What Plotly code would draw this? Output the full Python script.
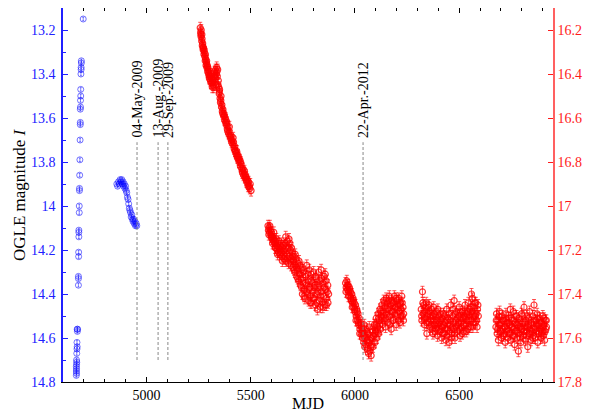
import plotly.graph_objects as go

# OGLE I-band (left axis), MJD - 50000
ogle_mjd = [4697, 4688, 4688, 4687, 4687, 4686, 4685, 4685, 4684, 4684, 4683, 4683, 4683,
            4682, 4681, 4680, 4679, 4679, 4678, 4678, 4676, 4676, 4676, 4675, 4675, 4674,
            4674, 4674, 4668, 4670, 4669, 4667, 4668, 4667, 4666, 4665, 4666, 4665, 4664,
            4665, 4664, 4665, 4664,
            4858, 4862, 4866, 4870, 4874, 4878, 4882, 4885, 4888, 4891, 4894, 4897, 4900,
            4903, 4906, 4909, 4912, 4915, 4918, 4921, 4924, 4927, 4930, 4933, 4936, 4939,
            4942, 4945, 4948, 4951, 4954]
ogle_mag = [13.15, 13.34, 13.35, 13.37, 13.38, 13.40, 13.47, 13.50, 13.52, 13.55, 13.56, 13.62, 13.63,
            13.70, 13.79, 13.86, 13.92, 13.93, 14.00, 14.03, 14.11, 14.12, 14.14, 14.21, 14.23, 14.32,
            14.33, 14.36, 14.56, 14.56, 14.57, 14.62, 14.64, 14.65, 14.67, 14.70, 14.71, 14.72, 14.73,
            14.74, 14.75, 14.76, 14.77,
            13.90, 13.91, 13.89, 13.90, 13.88, 13.89, 13.88, 13.90, 13.89, 13.91, 13.90, 13.92, 13.91,
            13.93, 13.94, 13.96, 13.97, 13.99, 14.01, 14.02, 14.03, 14.05, 14.04, 14.06, 14.07, 14.06,
            14.08, 14.07, 14.09, 14.08, 14.09]

# second light curve (right axis), five observing seasons
s1_mjd = [5258, 5260, 5262, 5263, 5265, 5267, 5268, 5270, 5272, 5274, 5276, 5278, 5280, 5282,
          5284, 5286, 5288, 5290, 5292, 5294, 5296, 5298, 5300, 5302, 5305, 5307, 5310, 5312,
          5315, 5318, 5320, 5322, 5325, 5327, 5330, 5332, 5335, 5337, 5340, 5342, 5345, 5347,
          5349, 5351, 5353, 5355, 5357, 5360, 5362, 5364, 5367, 5370, 5372, 5375, 5378, 5380,
          5383, 5386, 5388, 5391, 5394, 5397, 5400, 5403, 5406, 5409, 5412, 5415, 5418, 5421,
          5424, 5427, 5430, 5433, 5436, 5439, 5442, 5445, 5448, 5451, 5454, 5457, 5460, 5463,
          5466, 5469, 5472, 5475, 5478, 5481, 5484, 5487, 5490, 5494, 5498, 5502,
          5261, 5266, 5271, 5277, 5283, 5289, 5295, 5301, 5308, 5316, 5323, 5328, 5333, 5338,
          5343, 5350, 5358, 5366, 5374, 5382, 5390, 5398, 5407, 5416, 5425, 5434, 5443, 5452,
          5461, 5470, 5479, 5488, 5496]
s1_mag = [16.19, 16.21, 16.23, 16.20, 16.25, 16.24, 16.27, 16.26, 16.29, 16.28, 16.31, 16.30, 16.32, 16.34,
          16.33, 16.36, 16.35, 16.37, 16.36, 16.39, 16.38, 16.40, 16.39, 16.42, 16.41, 16.43, 16.44, 16.42,
          16.44, 16.43, 16.45, 16.41, 16.44, 16.39, 16.42, 16.38, 16.40, 16.37, 16.41, 16.38, 16.43, 16.46,
          16.49, 16.47, 16.51, 16.53, 16.52, 16.55, 16.54, 16.57, 16.56, 16.59, 16.58, 16.61, 16.60, 16.62,
          16.63, 16.62, 16.65, 16.64, 16.67, 16.66, 16.68, 16.69, 16.68, 16.71, 16.70, 16.72, 16.71, 16.74,
          16.73, 16.75, 16.76, 16.75, 16.78, 16.77, 16.79, 16.80, 16.79, 16.82, 16.81, 16.83, 16.84, 16.83,
          16.86, 16.85, 16.87, 16.86, 16.88, 16.89, 16.88, 16.90, 16.89, 16.91, 16.90, 16.93,
          16.22, 16.22, 16.28, 16.29, 16.31, 16.34, 16.37, 16.41, 16.40, 16.46, 16.46, 16.41, 16.45, 16.39,
          16.45, 16.48, 16.50, 16.58, 16.59, 16.61, 16.66, 16.64, 16.70, 16.69, 16.75, 16.77, 16.78, 16.80,
          16.85, 16.84, 16.87, 16.91, 16.92]

s2_mjd = [5583, 5585, 5588, 5590, 5594, 5597, 5600, 5603, 5606, 5609, 5612, 5615, 5618, 5621,
          5624, 5627, 5630, 5633, 5636, 5640, 5643, 5646, 5650, 5653, 5656, 5660, 5663, 5666,
          5670, 5673, 5676, 5679, 5682, 5685, 5688, 5691, 5694, 5697, 5700, 5703, 5706, 5709,
          5712, 5715, 5718, 5721, 5724, 5727, 5730, 5733, 5736, 5739, 5742, 5745, 5748, 5751,
          5754, 5757, 5760, 5763, 5766, 5769, 5772, 5775, 5778, 5781, 5784, 5787, 5790, 5793,
          5796, 5799, 5802, 5805, 5808, 5811, 5814, 5817, 5820, 5823, 5826, 5829, 5832, 5835,
          5838, 5841, 5844, 5847, 5850, 5853, 5856, 5859, 5862, 5865, 5868, 5871, 5874,
          5587, 5592, 5599, 5605, 5611, 5617, 5623, 5629, 5635, 5641, 5647, 5652, 5658, 5664,
          5668, 5672, 5678, 5684, 5690, 5696, 5702, 5708, 5714, 5720, 5726, 5732, 5738, 5744,
          5750, 5756, 5762, 5768, 5774, 5780, 5786, 5792, 5798, 5804, 5810, 5816, 5822, 5828,
          5834, 5840, 5846, 5852, 5858, 5864, 5870]
s2_mag = [17.09, 17.11, 17.10, 17.12, 17.11, 17.13, 17.12, 17.15, 17.14, 17.16, 17.15, 17.17, 17.16, 17.19,
          17.18, 17.20, 17.17, 17.21, 17.19, 17.22, 17.18, 17.21, 17.23, 17.19, 17.22, 17.24, 17.20, 17.17,
          17.25, 17.22, 17.16, 17.19, 17.26, 17.23, 17.17, 17.20, 17.27, 17.24, 17.21, 17.28, 17.25, 17.23,
          17.30, 17.27, 17.24, 17.32, 17.29, 17.26, 17.34, 17.31, 17.27, 17.36, 17.33, 17.29, 17.40, 17.35,
          17.30, 17.38, 17.42, 17.32, 17.36, 17.27, 17.40, 17.34, 17.43, 17.29, 17.37, 17.41, 17.31, 17.44,
          17.35, 17.39, 17.30, 17.42, 17.36, 17.45, 17.33, 17.40, 17.47, 17.37, 17.30, 17.43, 17.34, 17.46,
          17.29, 17.39, 17.44, 17.35, 17.41, 17.32, 17.45, 17.38, 17.34, 17.42, 17.39, 17.44, 17.40,
          17.13, 17.09, 17.14, 17.17, 17.12, 17.19, 17.15, 17.22, 17.16, 17.20, 17.17, 17.25, 17.18, 17.23,
          17.14, 17.19, 17.24, 17.15, 17.25, 17.19, 17.23, 17.29, 17.22, 17.28, 17.33, 17.25, 17.31, 17.37,
          17.28, 17.41, 17.35, 17.39, 17.31, 17.38, 17.44, 17.34, 17.42, 17.37, 17.32, 17.44, 17.39, 17.36,
          17.41, 17.33, 17.46, 17.37, 17.31, 17.45, 17.36]

s3_mjd = [5955, 5958, 5961, 5964, 5967, 5970, 5973, 5976, 5979, 5982, 5985, 5988, 5991, 5994,
          5997, 6000, 6003, 6006, 6009, 6012, 6015, 6018, 6021, 6024, 6027, 6030, 6033, 6036,
          6039, 6042, 6045, 6048, 6051, 6054, 6057, 6060, 6063, 6066, 6069, 6072, 6075, 6078,
          6081, 6084, 6087, 6090, 6093, 6096, 6099, 6102, 6105, 6108, 6111, 6114, 6117, 6120,
          6123, 6126, 6129, 6132, 6135, 6138, 6141, 6144, 6147, 6150, 6153, 6156, 6159, 6162,
          6165, 6168, 6171, 6174, 6177, 6180, 6183, 6186, 6189, 6192, 6195, 6198, 6201, 6204,
          6207, 6210, 6213, 6216, 6219, 6222, 6225, 6228, 6231, 6234,
          5957, 5963, 5969, 5975, 5981, 5987, 5993, 5999, 6005, 6011, 6017, 6023, 6029, 6035,
          6041, 6047, 6053, 6059, 6065, 6071, 6077, 6083, 6089, 6095, 6101, 6107, 6113, 6119,
          6125, 6131, 6137, 6143, 6149, 6155, 6161, 6167, 6173, 6179, 6185, 6191, 6197, 6203,
          6209, 6215, 6221, 6227, 6233]
s3_mag = [17.35, 17.37, 17.34, 17.38, 17.36, 17.39, 17.37, 17.41, 17.39, 17.43, 17.40, 17.44, 17.42, 17.46,
          17.44, 17.48, 17.45, 17.50, 17.47, 17.52, 17.49, 17.54, 17.51, 17.56, 17.53, 17.58, 17.55, 17.60,
          17.57, 17.62, 17.54, 17.59, 17.63, 17.56, 17.61, 17.65, 17.58, 17.62, 17.55, 17.66, 17.60, 17.68,
          17.63, 17.57, 17.64, 17.59, 17.54, 17.62, 17.57, 17.51, 17.60, 17.55, 17.49, 17.58, 17.52, 17.47,
          17.56, 17.50, 17.45, 17.54, 17.48, 17.43, 17.52, 17.46, 17.55, 17.42, 17.49, 17.44, 17.53, 17.47,
          17.41, 17.50, 17.45, 17.56, 17.43, 17.48, 17.52, 17.44, 17.41, 17.49, 17.46, 17.54, 17.43, 17.50,
          17.45, 17.42, 17.48, 17.53, 17.44, 17.47, 17.41, 17.50, 17.46, 17.49,
          17.39, 17.36, 17.41, 17.38, 17.42, 17.46, 17.43, 17.47, 17.52, 17.48, 17.53, 17.58, 17.54, 17.57,
          17.59, 17.64, 17.60, 17.57, 17.67, 17.61, 17.64, 17.60, 17.55, 17.58, 17.54, 17.57, 17.51, 17.54,
          17.48, 17.51, 17.50, 17.44, 17.51, 17.47, 17.43, 17.54, 17.48, 17.44, 17.51, 17.46, 17.42, 17.47,
          17.52, 17.45, 17.50, 17.44, 17.52]

s4_mjd = [6318, 6321, 6324, 6327, 6330, 6333, 6336, 6339, 6342, 6345, 6348, 6351, 6354, 6357,
          6360, 6364, 6368, 6372, 6376, 6380, 6384, 6388, 6392, 6396, 6400, 6404, 6408, 6412,
          6416, 6420, 6424, 6428, 6432, 6436, 6440, 6444, 6448, 6452, 6456, 6460, 6464, 6468,
          6472, 6476, 6480, 6484, 6488, 6492, 6496, 6500, 6504, 6508, 6512, 6516, 6520, 6524,
          6528, 6532, 6536, 6540, 6544, 6548, 6552, 6556, 6559, 6560, 6564, 6568, 6572, 6576,
          6580, 6584, 6588, 6592,
          6320, 6326, 6332, 6338, 6344, 6350, 6356, 6362, 6366, 6370, 6374, 6378, 6382, 6386,
          6390, 6394, 6398, 6402, 6406, 6410, 6414, 6418, 6422, 6426, 6430, 6434, 6438, 6442,
          6446, 6450, 6454, 6458, 6462, 6466, 6470, 6474, 6478, 6482, 6486, 6490, 6494, 6498,
          6502, 6506, 6510, 6514, 6518, 6522, 6526, 6530, 6534, 6538, 6542, 6546, 6550, 6554,
          6558, 6562, 6566, 6570, 6574, 6578, 6582, 6586, 6590]
s4_mag = [17.47, 17.52, 17.39, 17.49, 17.45, 17.54, 17.48, 17.51, 17.44, 17.58, 17.50, 17.46, 17.53, 17.48,
          17.55, 17.50, 17.47, 17.56, 17.52, 17.49, 17.57, 17.53, 17.48, 17.59, 17.54, 17.50, 17.57, 17.52,
          17.60, 17.55, 17.49, 17.58, 17.53, 17.61, 17.47, 17.56, 17.51, 17.62, 17.54, 17.45, 17.58, 17.50,
          17.56, 17.43, 17.60, 17.52, 17.48, 17.57, 17.53, 17.46, 17.59, 17.51, 17.55, 17.48, 17.57, 17.50,
          17.45, 17.54, 17.49, 17.56, 17.44, 17.52, 17.47, 17.55, 17.40, 17.49, 17.42, 17.53, 17.46, 17.50,
          17.44, 17.52, 17.47, 17.50,
          17.50, 17.44, 17.51, 17.46, 17.53, 17.49, 17.45, 17.52, 17.54, 17.50, 17.58, 17.46, 17.54, 17.50,
          17.56, 17.52, 17.47, 17.56, 17.53, 17.49, 17.55, 17.51, 17.58, 17.54, 17.50, 17.56, 17.52, 17.59,
          17.54, 17.49, 17.57, 17.52, 17.60, 17.55, 17.47, 17.53, 17.58, 17.49, 17.55, 17.51, 17.54, 17.50,
          17.56, 17.48, 17.53, 17.58, 17.51, 17.54, 17.48, 17.51, 17.57, 17.52, 17.48, 17.55, 17.50, 17.46,
          17.52, 17.48, 17.55, 17.50, 17.44, 17.53, 17.49, 17.55, 17.45]

s5_mjd = [6676, 6679, 6682, 6685, 6688, 6691, 6694, 6697, 6700, 6703, 6706, 6709, 6712, 6715,
          6718, 6721, 6724, 6727, 6730, 6733, 6736, 6739, 6742, 6745, 6748, 6751, 6754, 6757,
          6760, 6763, 6766, 6769, 6772, 6775, 6778, 6781, 6784, 6787, 6790, 6793, 6796, 6799,
          6802, 6805, 6808, 6811, 6814, 6817, 6820, 6823, 6826, 6829, 6832, 6835, 6838, 6841,
          6844, 6847, 6850, 6853, 6856, 6859, 6862, 6865, 6868, 6871, 6874, 6877, 6880, 6883,
          6886, 6889, 6892, 6895, 6898, 6901, 6904, 6907, 6910, 6913, 6916, 6919,
          6678, 6684, 6690, 6696, 6702, 6708, 6714, 6720, 6726, 6732, 6738, 6744, 6750, 6756,
          6762, 6768, 6774, 6780, 6786, 6792, 6798, 6804, 6810, 6816, 6822, 6828, 6834, 6840,
          6846, 6852, 6858, 6864, 6870, 6876, 6882, 6888, 6894, 6900, 6906, 6912, 6918]
s5_mag = [17.55, 17.49, 17.58, 17.52, 17.61, 17.54, 17.48, 17.57, 17.53, 17.60, 17.50, 17.56, 17.59, 17.52,
          17.55, 17.62, 17.49, 17.57, 17.53, 17.60, 17.51, 17.58, 17.54, 17.47, 17.61, 17.55, 17.52, 17.59,
          17.48, 17.56, 17.63, 17.53, 17.57, 17.50, 17.60, 17.54, 17.66, 17.51, 17.58, 17.55, 17.62, 17.49,
          17.56, 17.53, 17.59, 17.46, 17.55, 17.61, 17.52, 17.57, 17.50, 17.64, 17.54, 17.58, 17.48, 17.56,
          17.61, 17.53, 17.57, 17.50, 17.59, 17.45, 17.55, 17.60, 17.52, 17.57, 17.49, 17.62, 17.54, 17.58,
          17.51, 17.56, 17.60, 17.53, 17.57, 17.50, 17.59, 17.54, 17.61, 17.52, 17.56, 17.55,
          17.52, 17.56, 17.50, 17.54, 17.57, 17.52, 17.58, 17.55, 17.51, 17.56, 17.53, 17.58, 17.51, 17.55,
          17.59, 17.50, 17.54, 17.57, 17.53, 17.60, 17.56, 17.50, 17.57, 17.53, 17.59, 17.55, 17.51, 17.58,
          17.54, 17.60, 17.52, 17.56, 17.54, 17.51, 17.57, 17.53, 17.58, 17.55, 17.51, 17.57, 17.52]

# marked dates
event_labels = ["04-May-2009", "13-Aug.-2009", "29-Sep.-2009", "22-Apr.-2012"]
event_mjd = [4955, 5056, 5103, 6039]

serif = "Liberation Serif"
blue = "#2020ff"
red = "#ff1a1a"

red_mjd = s1_mjd + s2_mjd + s3_mjd + s4_mjd + s5_mjd
red_mag = s1_mag + s2_mag + s3_mag + s4_mag + s5_mag

fig = go.Figure()
fig.add_trace(go.Scatter(x=ogle_mjd, y=ogle_mag, mode="markers", yaxis="y",
                         marker=dict(symbol="circle-open", size=6, color="rgba(0,0,255,0.55)",
                                     line=dict(width=1)),
                         error_y=dict(type="constant", value=0.008, width=1, thickness=1,
                                      color="rgba(0,0,255,0.5)"),
                         showlegend=False))
fig.add_trace(go.Scatter(x=red_mjd, y=red_mag, mode="markers", yaxis="y2",
                         marker=dict(symbol="circle-open", size=6, color="rgba(255,0,0,0.8)",
                                     line=dict(width=1.2)),
                         error_y=dict(type="constant", value=0.025, width=2, thickness=1,
                                      color="rgba(255,0,0,0.65)"),
                         showlegend=False))

for lab, m in zip(event_labels, event_mjd):
    fig.add_shape(type="line", xref="x", yref="y", x0=m, x1=m, y0=14.70, y1=13.71,
                  line=dict(color="#888888", width=1, dash="3px,2px"))
    fig.add_annotation(x=m, y=13.70, xref="x", yref="y", text=lab, textangle=-90,
                       showarrow=False, xanchor="center", yanchor="bottom",
                       font=dict(family=serif, size=14, color="black"))

# axis titles placed by hand
fig.add_annotation(x=0, y=0.5, xref="paper", yref="paper", text="OGLE magnitude <i>I</i>",
                   textangle=-90, showarrow=False, xanchor="center", yanchor="middle", xshift=-44,
                   font=dict(family=serif, size=17, color="black"))
fig.add_annotation(x=0.5, y=0, xref="paper", yref="paper", text="MJD",
                   showarrow=False, xanchor="center", yanchor="middle", yshift=-21,
                   font=dict(family=serif, size=16, color="black"))

# page adds an 8px body margin, so the figure is sized to fit inside the window
fig.update_layout(
    width=590, height=411,
    margin=dict(l=55, r=45, t=0, b=37),
    paper_bgcolor="white", plot_bgcolor="white",
    font=dict(family=serif, size=14, color="black"),
    xaxis=dict(range=[4600, 6950], tickvals=[5000, 5500, 6000, 6500], automargin=False,
               ticks="inside", ticklen=5, tickcolor="black",
               minor=dict(dtick=100, tick0=4600, ticks="inside", ticklen=3, tickcolor="black"),
               showline=True, linecolor="black", linewidth=1, mirror="ticks",
               showgrid=False, zeroline=False),
    yaxis=dict(range=[14.8, 13.1], tick0=13.2, dtick=0.2, automargin=False,
               ticks="inside", ticklen=5, tickcolor=blue, ticklabelstandoff=3,
               minor=dict(dtick=0.1, ticks="inside", ticklen=3, tickcolor=blue),
               showline=True, linecolor=blue, linewidth=1.5,
               tickfont=dict(family=serif, size=14, color=blue),
               showgrid=False, zeroline=False),
    yaxis2=dict(range=[17.8, 16.1], tick0=16.2, dtick=0.2, overlaying="y", side="right",
                automargin=False,
                ticks="inside", ticklen=5, tickcolor=red,
                showline=True, linecolor="#ff6060", linewidth=1.5,
                tickfont=dict(family=serif, size=14, color=red),
                showgrid=False, zeroline=False),
)

fig.write_html("out.html")
